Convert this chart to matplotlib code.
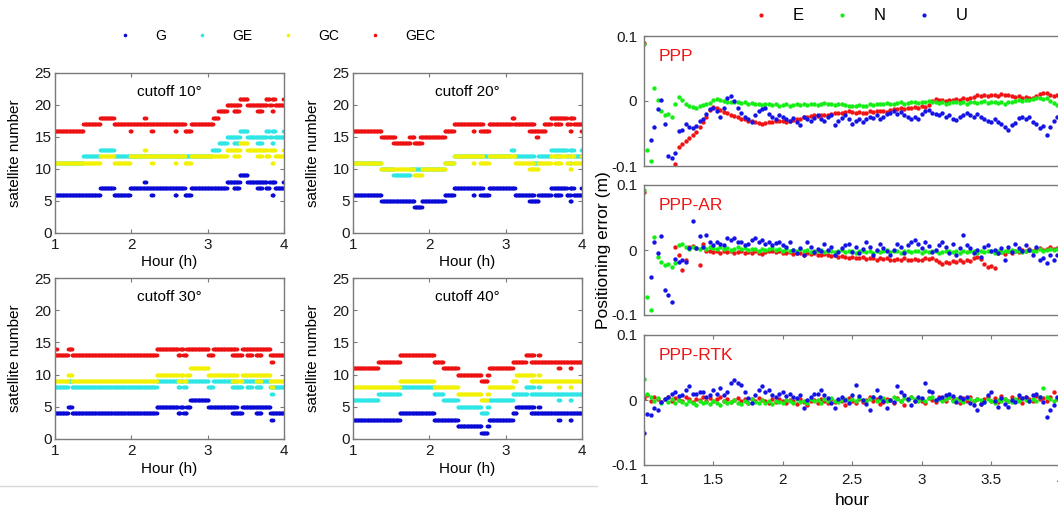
import numpy as np
import matplotlib.pyplot as plt
from matplotlib.lines import Line2D

plt.rcParams['font.family'] = ['Liberation Sans', 'DejaVu Sans']
plt.rcParams['axes.unicode_minus'] = False

# satellite numbers as (start hour, end hour, count)
g_10 = [(1.00, 1.59, 6), (1.59, 1.77, 7), (1.77, 1.98, 6), (1.98, 2.70, 7), (2.17, 2.19, 8), (2.26, 2.28, 6),
        (2.57, 2.59, 6), (2.70, 2.78, 6), (2.78, 3.25, 7), (3.25, 3.42, 8), (3.34, 3.41, 7), (3.42, 3.52, 9),
        (3.52, 3.77, 8), (3.65, 3.71, 7), (3.76, 3.81, 7), (3.81, 3.88, 8), (3.84, 3.86, 6), (3.88, 4.00, 7),
        (3.99, 4.00, 8)]
ge_10 = [(1.00, 1.37, 11), (1.37, 1.59, 12), (1.59, 1.77, 13), (1.77, 3.06, 12), (3.06, 3.15, 13), (3.15, 3.25, 14),
         (3.25, 3.42, 15), (3.34, 3.41, 14), (3.42, 3.52, 16), (3.52, 3.77, 15), (3.65, 3.71, 14), (3.76, 3.81, 16),
         (3.81, 3.84, 15), (3.84, 3.88, 16), (3.84, 3.86, 14), (3.88, 4.00, 15), (3.99, 4.00, 16)]
gc_10 = [(1.00, 1.59, 11), (1.59, 1.77, 12), (1.77, 1.98, 11), (1.98, 2.70, 12), (2.17, 2.19, 13), (2.26, 2.28, 11),
         (2.57, 2.59, 11), (2.70, 2.78, 11), (2.78, 3.25, 12), (3.25, 3.42, 13), (3.34, 3.41, 12), (3.42, 3.52, 14),
         (3.52, 3.77, 13), (3.65, 3.71, 12), (3.76, 3.81, 12), (3.81, 3.88, 13), (3.84, 3.86, 11), (3.88, 4.00, 12),
         (3.99, 4.00, 13)]
gec_10 = [(1.00, 1.37, 16), (1.37, 1.59, 17), (1.59, 1.77, 18), (1.77, 2.70, 17), (1.98, 2.00, 16), (2.17, 2.19, 18),
          (2.26, 2.28, 16), (2.57, 2.59, 16), (2.70, 2.78, 16), (2.78, 3.07, 17), (3.07, 3.14, 18), (3.14, 3.25, 19),
          (3.25, 3.42, 20), (3.34, 3.41, 19), (3.42, 3.52, 21), (3.52, 3.77, 20), (3.65, 3.71, 19), (3.76, 3.81, 21),
          (3.81, 3.84, 20), (3.84, 3.88, 21), (3.84, 3.86, 19), (3.88, 4.00, 20), (3.99, 4.00, 21)]

g_20 = [(1.00, 1.37, 6), (1.37, 1.80, 5), (1.80, 1.90, 4), (1.90, 2.20, 5), (2.20, 2.32, 6), (2.32, 2.70, 7),
        (2.57, 2.59, 6), (2.67, 2.78, 6), (2.78, 3.12, 7), (3.12, 3.37, 6), (3.31, 3.43, 5), (3.43, 3.59, 6),
        (3.59, 3.80, 7), (3.64, 3.72, 6), (3.80, 3.85, 6), (3.84, 3.89, 7), (3.84, 3.86, 5), (3.89, 4.00, 6),
        (3.99, 4.00, 7)]
ge_20 = [(1.00, 1.37, 11), (1.37, 1.53, 10), (1.53, 1.75, 9), (1.75, 2.20, 10), (2.20, 2.32, 11), (2.32, 3.07, 12),
         (3.07, 3.11, 13), (3.11, 3.37, 12), (3.37, 3.43, 11), (3.43, 3.59, 12), (3.59, 3.80, 13), (3.64, 3.72, 12),
         (3.80, 3.85, 12), (3.84, 3.89, 13), (3.84, 3.86, 11), (3.89, 4.00, 12), (3.99, 4.00, 13)]
gc_20 = [(1.00, 1.37, 11), (1.37, 1.80, 10), (1.80, 1.90, 9), (1.90, 2.20, 10), (2.20, 2.32, 11), (2.32, 2.70, 12),
         (2.57, 2.59, 11), (2.67, 2.78, 11), (2.78, 3.12, 12), (3.12, 3.37, 11), (3.31, 3.43, 10), (3.43, 3.59, 11),
         (3.59, 3.80, 12), (3.64, 3.72, 11), (3.80, 3.85, 11), (3.84, 3.89, 12), (3.84, 3.86, 10), (3.89, 4.00, 11),
         (3.99, 4.00, 12)]
gec_20 = [(1.00, 1.37, 16), (1.37, 1.55, 15), (1.53, 1.75, 14), (1.74, 1.80, 15), (1.80, 1.90, 14), (1.88, 2.20, 15),
          (2.20, 2.32, 16), (2.32, 2.70, 17), (2.57, 2.59, 16), (2.67, 2.78, 16), (2.78, 3.08, 17), (3.08, 3.11, 18),
          (3.11, 3.37, 17), (3.31, 3.52, 16), (3.40, 3.42, 15), (3.50, 3.59, 17), (3.59, 3.80, 18), (3.64, 3.72, 17),
          (3.80, 3.85, 17), (3.84, 3.89, 18), (3.84, 3.86, 16), (3.89, 4.00, 17), (3.99, 4.00, 16)]

g_30 = [(1.00, 1.17, 4), (1.17, 1.22, 5), (1.22, 2.33, 4), (2.33, 2.61, 5), (2.61, 2.64, 4), (2.64, 2.68, 5),
        (2.68, 2.72, 4), (2.72, 2.77, 5), (2.77, 3.01, 6), (3.01, 3.38, 5), (3.32, 3.45, 4), (3.45, 3.82, 5),
        (3.63, 3.70, 4), (3.83, 3.85, 3), (3.82, 4.00, 4)]
ge_30 = [(1.00, 1.17, 8), (1.17, 1.22, 9), (1.22, 2.33, 8), (2.33, 2.61, 9), (2.61, 2.64, 8), (2.64, 2.68, 9),
         (2.68, 2.72, 8), (2.72, 3.01, 9), (3.01, 3.07, 8), (3.07, 3.38, 9), (3.32, 3.45, 8), (3.45, 3.82, 9),
         (3.51, 3.58, 8), (3.63, 3.70, 8), (3.83, 3.85, 7), (3.82, 4.00, 8)]
gc_30 = [(1.00, 1.17, 9), (1.17, 1.22, 10), (1.22, 2.33, 9), (2.33, 2.61, 10), (2.61, 2.64, 9), (2.64, 2.68, 10),
         (2.68, 2.72, 9), (2.72, 2.77, 10), (2.77, 3.01, 11), (3.01, 3.38, 10), (3.32, 3.45, 9), (3.45, 3.82, 10),
         (3.63, 3.70, 9), (3.83, 3.85, 8), (3.82, 4.00, 9)]
gec_30 = [(1.00, 1.02, 14), (1.00, 1.17, 13), (1.17, 1.22, 14), (1.22, 2.33, 13), (2.33, 2.61, 14), (2.61, 2.64, 13),
          (2.64, 2.68, 14), (2.68, 2.72, 13), (2.72, 3.01, 14), (3.01, 3.07, 13), (3.07, 3.38, 14), (3.32, 3.45, 13),
          (3.45, 3.82, 14), (3.51, 3.58, 13), (3.63, 3.70, 13), (3.83, 3.85, 12), (3.82, 4.00, 13)]

g_40 = [(1.00, 1.61, 3), (1.61, 2.06, 4), (2.06, 2.37, 3), (2.37, 2.68, 2), (2.68, 2.76, 1), (2.76, 2.78, 2),
        (2.78, 3.09, 3), (3.09, 3.14, 4), (3.14, 3.37, 5), (3.43, 3.45, 5), (3.33, 4.00, 4), (3.69, 3.71, 3),
        (3.84, 3.86, 3)]
ge_40 = [(1.00, 1.33, 6), (1.33, 1.61, 7), (1.61, 2.06, 8), (2.06, 2.18, 7), (2.18, 2.37, 6), (2.37, 2.68, 5),
         (2.68, 2.76, 4), (2.76, 2.78, 5), (2.78, 3.09, 6), (3.09, 3.28, 7), (3.26, 3.37, 8), (3.43, 3.45, 8),
         (3.33, 4.00, 7), (3.69, 3.71, 6), (3.84, 3.86, 6)]
gc_40 = [(1.00, 1.61, 8), (1.61, 2.06, 9), (2.06, 2.37, 8), (2.37, 2.68, 7), (2.68, 2.76, 6), (2.76, 2.78, 7),
         (2.78, 3.09, 8), (3.09, 3.14, 9), (3.14, 3.37, 10), (3.43, 3.45, 10), (3.33, 4.00, 9), (3.69, 3.71, 8),
         (3.84, 3.86, 8)]
gec_40 = [(1.00, 1.33, 11), (1.33, 1.61, 12), (1.61, 2.06, 13), (2.06, 2.18, 12), (2.18, 2.37, 11), (2.37, 2.68, 10),
          (2.68, 2.76, 9), (2.76, 2.78, 10), (2.78, 3.09, 11), (3.09, 3.26, 12), (3.26, 3.37, 13), (3.43, 3.45, 13),
          (3.33, 4.00, 12), (3.69, 3.71, 11), (3.84, 3.86, 11)]

# positioning errors in mm, one value every 0.025 h from 1 h to 4 h
nan = np.nan
ppp_e = [90, nan, nan, nan, nan, nan, nan, nan, nan, -97,
         -70, -66, -62, -57, -53, -48, -40, -33, -25, -14,
         -9, -11, -14, -17, -19, -21, -23, -25, -27, -28,
         -30, -31, -33, -34, -35, -34, -33, -32, -31, -30,
         -31, -32, -30, -29, -28, -27, -25, -24, -23, -22,
         -23, -22, -21, -21, -20, -19, -18, -18, -17, -16,
         -17, -18, -17, -19, -18, -16, -17, -15, -16, -15,
         -17, -14, -12, -13, -11, -12, -10, -11, -9, -10,
         -8, -9, -6, 0, 3, 1, 2, 0, 1, 2,
         3, 2, 4, 3, 5, 6, 9, 8, 10, 7,
         9, 10, 8, 11, 9, 10, 8, 6, 7, 5,
         6, 4, 5, 8, 11, 13, 12, 9, 8, 10,
         11]
ppp_n = [88, -75, -93, 20, 2, -15, -22, -20, -25, -5,
         6, 2, -5, -8, -9, -10, -8, -6, -5, -3,
         1, 3, 2, 0, -1, -2, -1, -2, -3, -2,
         -4, -3, -5, -4, -6, -5, -4, -6, -5, -7,
         -6, -5, -7, -6, -5, -6, -4, -6, -5, -4,
         -6, -5, -3, -5, -4, -6, -5, -4, -6, -7,
         -8, -7, -6, -8, -7, -5, -6, -4, -5, -4,
         -3, -5, -4, -3, -2, -4, -3, -1, -2, -3,
         -1, -2, 0, -2, -1, -3, -2, -4, -3, -1,
         -2, -3, -2, -4, -2, -1, -3, -2, 0, -3,
         -2, -1, -3, -2, -4, -2, -1, 0, 1, 0,
         2, 1, 3, 4, 5, 3, 4, 0, -3, -6,
         -7]
ppp_u = [nan, nan, -60, -40, -12, 2, -35, -84, -88, -80,
         -46, -44, -36, -40, -42, -38, -30, -27, -20, -12,
         -10, -15, -25, -10, 5, 8, 0, -10, -18, -25,
         -28, -32, -22, -16, -12, -10, -20, -24, -27, -22,
         -24, -28, -30, -26, -33, -37, -25, -28, -30, -26,
         -22, -28, -31, -25, -22, -37, -30, -26, -22, -28,
         -35, -30, -27, -32, -28, -24, -26, -22, -28, -25,
         -20, -18, -15, -20, -17, -22, -25, -28, -24, -27,
         -20, -16, -14, -18, -20, -22, -19, -24, -22, -27,
         -29, -24, -22, -19, -21, -24, -20, -25, -28, -30,
         -32, -28, -33, -35, -40, -45, -37, -34, -26, -24,
         -28, -25, -32, -36, -42, -38, -52, -40, -30, -25,
         -28]

ar_e = [90, nan, nan, nan, nan, nan, nan, nan, nan, 5,
        -8, -31, -15, 4, 6, 3, -23, 10, -2, -1,
        -3, -2, -4, -1, -3, -2, -5, -3, -2, -4,
        -3, -5, -2, -4, -6, -3, -2, -1, -3, -2,
        -4, -5, -3, -6, -4, -5, -7, -4, -6, -5,
        -7, -8, -6, -7, -9, -8, -10, -9, -11, -12,
        -10, -12, -13, -11, -14, -12, -13, -15, -12, -14,
        -13, -15, -16, -14, -15, -13, -16, -15, -14, -16,
        -15, -13, -14, -12, -15, -19, -21, -18, -20, -17,
        -19, -16, -18, -15, -17, -12, -10, -14, -22, -26,
        -24, -28, -5, -3, -6, -2, -4, -1, -3, 0,
        -2, 2, -1, 1, 3, 0, 2, 4, 1, 3,
        5]
ar_n = [92, -72, -92, 20, -10, -18, -23, -21, -26, -20,
        8, 10, 4, 2, 5, 3, 1, 4, 2, 5,
        3, 1, 4, 2, 3, 0, 2, 4, 1, 3,
        0, 2, 1, -1, 2, 0, 1, 3, 0, 2,
        -1, 1, -2, 0, -1, 1, -2, 0, -3, -1,
        -2, 0, -3, -2, -1, -3, -2, 0, -3, -1,
        -2, -4, -2, -1, -3, -2, -4, -1, -3, -2,
        0, -3, -1, -2, -4, -2, -1, -3, -1, -2,
        -4, -2, -3, -1, -2, -4, -3, -1, -2, -3,
        -1, -4, -2, -3, -1, -2, -4, -2, -3, -1,
        -2, -4, -2, -3, -1, -2, 0, -2, -1, -3,
        -1, 0, -2, -1, 1, -1, 0, 2, 0, 1,
        2]
ar_u = [nan, nan, -41, 13, -5, 22, -62, -69, -80, -14,
        -18, -15, -18, 3, 44, 3, 21, 5, 23, 12,
        8, 13, 10, 8, 18, 15, 18, 12, 13, 8,
        10, 15, 18, 13, 16, 10, 13, 8, 11, 13,
        8, 5, 12, 0, -5, 3, -8, 13, 5, -3,
        2, -1, 10, 0, 5, -8, -3, 3, 8, 10,
        -3, 5, -5, 2, 13, 5, -8, 0, 10, 3,
        -2, -8, 0, 10, 5, -4, 8, 13, 15, 10,
        3, 13, 6, -3, 0, 8, 13, 5, -5, 10,
        -8, 3, 23, 8, 3, -5, 0, -10, 5, 8,
        -2, 0, -5, 3, -15, 5, -3, 10, 3, -2,
        8, 0, -8, 5, -15, -12, -20, -8, -15, -8,
        -5]

rtk_e = [3, 8, -2, 4, 1, -3, 2, 5, -1, 3,
         0, -2, 4, 1, -3, 2, 0, 5, -1, 3,
         -2, 1, 4, -1, 2, -3, 0, 3, -2, 1,
         -4, 2, -1, 3, 0, -2, -5, 1, -3, 2,
         -1, -4, 0, -2, -6, 1, -3, -8, -2, 0,
         -4, 2, -1, -5, 1, -3, 0, -2, -7, 3,
         -1, -4, 2, -3, 0, 4, -2, 1, -6, -3,
         2, 0, -4, 3, -1, -8, 1, 4, -2, 2,
         -1, -5, 3, 0, -3, 5, 1, -2, 4, 0,
         2, -4, 3, -1, 5, -2, 1, -6, 2, 4,
         -1, 3, -3, 6, 1, -2, 4, 0, 3, -4,
         5, 2, -1, 6, 1, 3, -2, 4, 13, 2,
         25]
rtk_n = [33, 10, 4, -2, 3, -4, 1, -3, 2, -5,
         0, -3, -6, -1, -4, -7, -2, -5, -3, -6,
         -1, -4, -7, -2, -5, -3, 0, -4, -6, -2,
         -5, 1, -3, -5, 0, -4, -2, -6, -1, -3,
         -5, 0, -2, -4, 1, -3, -1, -5, 2, -2,
         0, -4, 1, -2, 3, -1, -3, 0, 2, -2,
         1, -1, 3, 0, -2, 2, 4, -1, 1, 3,
         -2, 0, 5, 2, -1, 3, 0, 4, 1, -2,
         2, -1, 3, 5, 0, 2, -2, 1, 4, -1,
         2, 0, -3, 3, 1, -2, 2, 0, -3, 1,
         -1, -4, 0, -2, 2, -1, -3, 1, -2, 3,
         0, -1, 2, -2, 4, 18, 5, 1, -1, 3,
         16]
rtk_u = [-51, -21, -23, -13, -15, -3, 2, 5, 10, 13,
         6, 8, 15, 21, 10, 10, 13, 13, 5, 8,
         15, 10, 18, 8, 13, 26, 31, 26, 23, 13,
         3, -5, 8, 15, 21, 12, 15, 8, 5, 9,
         13, 6, 10, 5, 3, 8, -13, 0, 4, 10,
         10, 15, 8, 3, -5, -13, 2, 5, 0, -5,
         8, 23, 6, 0, -6, -15, 5, 15, 5, -2,
         -13, 0, -3, 21, 12, 8, 2, -8, -2, 5,
         3, 26, 14, 13, 0, 3, 5, 8, 10, 6,
         -3, 5, 2, 5, -4, -8, -15, -6, -3, 8,
         13, -2, -10, 3, -6, -10, 0, -3, 8, 3,
         5, -2, 8, 10, 4, -3, -26, -15, -8, 5,
         -33]

cutoff_titles = ['cutoff 10°', 'cutoff 20°', 'cutoff 30°', 'cutoff 40°']
systems = ['G', 'GE', 'GC', 'GEC']
sys_colors = ['#0a0ad6', '#2ee6e6', '#f2f200', '#ee1111']
sat_data = [[g_10, ge_10, gc_10, gec_10],
            [g_20, ge_20, gc_20, gec_20],
            [g_30, ge_30, gc_30, gec_30],
            [g_40, ge_40, gc_40, gec_40]]

comps = ['E', 'N', 'U']
comp_colors = ['#f01414', '#14ee14', '#1414e6']
modes = ['PPP', 'PPP-AR', 'PPP-RTK']
enu_data = [[ppp_e, ppp_n, ppp_u], [ar_e, ar_n, ar_u], [rtk_e, rtk_n, rtk_u]]

epochs = np.round(np.arange(1.0, 4.0001, 0.01), 2)
enu_hours = np.linspace(1.0, 4.0, 121)


def expand(segs):
    tt, vv = [], []
    for t0, t1, val in segs:
        m = (epochs >= t0 - 1e-6) & (epochs <= t1 + 1e-6)
        tt.append(epochs[m])
        vv.append(np.full(m.sum(), val))
    return np.concatenate(tt), np.concatenate(vv)


def style(ax, xpad, ypad):
    for s in ax.spines.values():
        s.set_color('#7a7a7a')
        s.set_linewidth(1.0)
    ax.tick_params(direction='in', length=3, width=0.8, color='#7a7a7a',
                   labelsize=11, labelcolor='#1a1a1a')
    ax.tick_params(axis='x', pad=xpad)
    ax.tick_params(axis='y', pad=ypad)


W, H = 1058, 509
fig = plt.figure(figsize=(W / 100, H / 100), dpi=100)

# left block: satellite numbers
left_boxes = [(55, 73, 229, 160), (353, 73, 229, 160), (55, 278, 229, 161), (353, 278, 229, 161)]
for k, (x0, y0, w, h) in enumerate(left_boxes):
    ax = fig.add_axes([x0 / W, 1 - (y0 + h) / H, w / W, h / H])
    for segs, c in zip(sat_data[k], sys_colors):
        t, v = expand(segs)
        ax.scatter(t, v, s=7.5, c=c, linewidths=0, zorder=2)
    ax.set_xlim(1, 4)
    ax.set_ylim(0, 25)
    ax.set_xticks([1, 2, 3, 4])
    ax.set_yticks([0, 5, 10, 15, 20, 25])
    style(ax, 3.5, 2.5)
    ax.tick_params(top=True, right=True)
    ax.text(0.5, 0.88, cutoff_titles[k], transform=ax.transAxes, ha='center', va='center', fontsize=11)
    ax.set_xlabel('Hour (h)', fontsize=11)
    ax.set_ylabel('satellite number', fontsize=11)
    ax.xaxis.set_label_coords(0.5, -0.135 if k < 2 else -0.145)
    ax.yaxis.set_label_coords(-0.145, 0.5)

sys_handles = [Line2D([], [], ls='', marker='o', ms=2.6, mew=0, color=c) for c in sys_colors]
fig.legend(sys_handles, systems, loc='center', bbox_to_anchor=(273.5 / W, 1 - 36 / H), ncol=4,
           frameon=False, fontsize=10, handlelength=2, handletextpad=1.16, columnspacing=1.59, borderpad=0)

# right block: positioning errors
right_boxes = [(644, 36, 416.5, 130), (644, 185, 416.5, 130), (644, 335, 416.5, 130)]
for k, (x0, y0, w, h) in enumerate(right_boxes):
    ax = fig.add_axes([x0 / W, 1 - (y0 + h) / H, w / W, h / H])
    for vals, c in zip(enu_data[k], comp_colors):
        ax.scatter(enu_hours, np.array(vals, dtype=float) / 1000, s=10, c=c, linewidths=0, zorder=2)
    ax.set_xlim(1, 4)
    ax.set_ylim(-0.1, 0.1)
    ax.set_yticks([-0.1, 0, 0.1])
    ax.set_yticklabels(['-0.1', '0', '0.1'])
    style(ax, 5.5, 5)
    ax.text(0.034, 0.84, modes[k], transform=ax.transAxes, ha='left', va='center',
            fontsize=12.5, color='#f01414')
    if k < 2:
        ax.set_xticks([])
    else:
        ax.set_xticks([1, 1.5, 2, 2.5, 3, 3.5, 4])
        ax.set_xticklabels(['1', '1.5', '2', '2.5', '3', '3.5', '4'])
        ax.tick_params(top=True)
        ax.set_xlabel('hour', fontsize=12.5)
        ax.xaxis.set_label_coords(0.5, -0.215)
    if k == 1:
        ax.set_ylabel('Positioning error (m)', fontsize=12.5)
        ax.yaxis.set_label_coords(-0.079, 0.5)

comp_handles = [Line2D([], [], ls='', marker='o', ms=3, mew=0, color=c) for c in comp_colors]
fig.legend(comp_handles, comps, loc='center', bbox_to_anchor=(856 / W, 1 - 16 / H), ncol=3,
           frameon=False, fontsize=12, handlelength=2, handletextpad=0.92, columnspacing=1.28, borderpad=0)

fig.add_artist(Line2D([0, 597 / W], [1 - 486 / H, 1 - 486 / H], color='#d8d8d8', lw=1))

fig.savefig('out.png', dpi=100)
